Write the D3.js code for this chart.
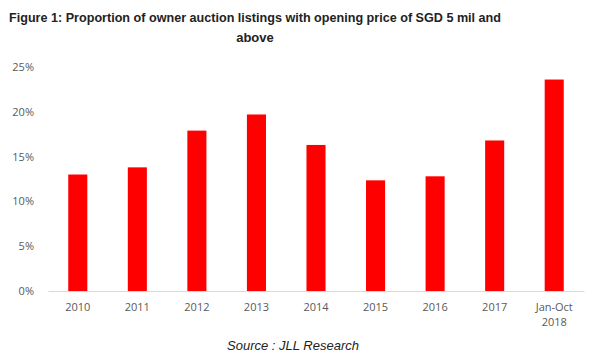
<!DOCTYPE html>
<html>
<head>
<meta charset="utf-8">
<script src="https://cdn.jsdelivr.net/npm/d3@7"></script>
<style>
  body { margin: 0; background: #fff; }
  .axis text { font-family: "Open Sans", "Liberation Sans", sans-serif; font-size: 11px; fill: #595959; }
</style>
</head>
<body>
<div id="chart"></div>
<script>
var categories = ["2010", "2011", "2012", "2013", "2014", "2015", "2016", "2017", "Jan-Oct 2018"];
var values = [13.0, 13.8, 17.9, 19.7, 16.3, 12.35, 12.8, 16.8, 23.6];
var yTicks = [0, 5, 10, 15, 20, 25];

var svg = d3.select("#chart").append("svg")
    .attr("width", 600)
    .attr("height", 360),
  margin = {top: 67, right: 16, bottom: 69, left: 48},
  width = 600 - margin.left - margin.right,
  height = 360 - margin.top - margin.bottom;

var x = d3.scaleBand().domain(categories).range([0, width]).paddingInner(0.68).paddingOuter(0.34);
var y = d3.scaleLinear().domain([0, 25]).range([height, 0]);

var g = svg.append("g")
    .attr("transform", "translate(" + margin.left + "," + margin.top + ")");

// title
var title = svg.append("g")
    .style("font-family", "'Liberation Sans', Arial, sans-serif")
    .style("font-weight", "bold")
    .style("font-size", "13px")
    .attr("fill", "#222");
title.append("text").attr("x", 255).attr("y", 22).attr("text-anchor", "middle")
    .attr("textLength", 492).attr("lengthAdjust", "spacingAndGlyphs")
    .text("Figure 1: Proportion of owner auction listings with opening price of SGD 5 mil and");
title.append("text").attr("x", 255).attr("y", 42).attr("text-anchor", "middle")
    .text("above");

// y axis labels only
var yAxis = g.append("g")
    .attr("class", "axis")
    .call(d3.axisLeft(y).tickValues(yTicks).tickSize(0).tickPadding(14).tickFormat(function(d) { return d + "%"; }));
yAxis.select(".domain").remove();

// bars
g.selectAll(".bar")
    .data(values)
  .enter().append("rect")
    .attr("class", "bar")
    .attr("x", function(d, i) { return x(categories[i]); })
    .attr("width", x.bandwidth())
    .attr("y", function(d) { return y(d); })
    .attr("height", function(d) { return height - y(d); })
    .attr("fill", "#ff0000");

// x axis
var xAxis = g.append("g")
    .attr("class", "axis")
    .attr("transform", "translate(0," + height + ")")
    .call(d3.axisBottom(x).tickSize(0).tickPadding(12));
xAxis.select(".domain").attr("stroke", "#d9d9d9");
xAxis.selectAll(".tick text").each(function(d) {
  var parts = d.split(" ");
  if (parts.length > 1) {
    var t = d3.select(this).text(null);
    parts.forEach(function(p, i) {
      t.append("tspan").attr("x", 0).attr("dy", i === 0 ? "0.71em" : "1.4em").text(p);
    });
  }
});

// source
svg.append("text")
    .attr("x", 293)
    .attr("y", 350)
    .attr("text-anchor", "middle")
    .style("font-family", "'Liberation Sans', Arial, sans-serif")
    .style("font-style", "italic")
    .style("font-size", "13px")
    .attr("fill", "#222")
    .text("Source : JLL Research");
</script>
</body>
</html>
